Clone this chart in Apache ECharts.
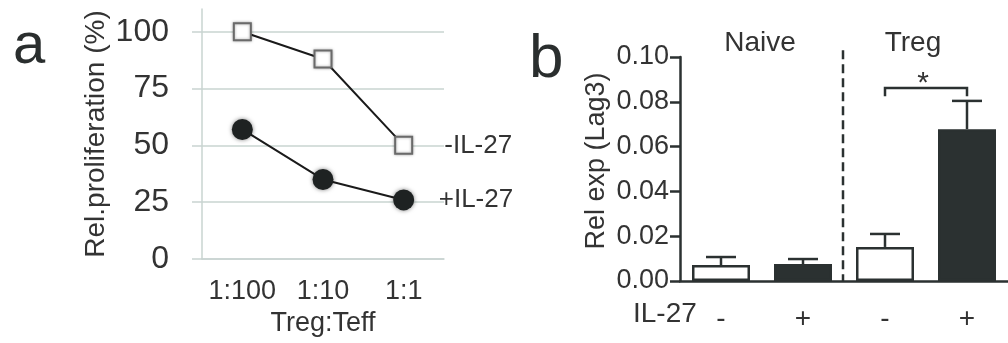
<!DOCTYPE html>
<html>
<head>
<meta charset="utf-8">
<script src="https://cdn.jsdelivr.net/npm/echarts@6/dist/echarts.min.js"></script>
<style>
  html, body { margin: 0; padding: 0; background: #fff; }
  #chart { width: 1008px; height: 343px; }
</style>
</head>
<body>
<div id="chart"></div>
<script>
// panel a: relative proliferation
const ratios = ["1:100", "1:10", "1:1"];
const minusIL27 = [100, 88, 50];
const plusIL27 = [57, 35, 26];
const propTicks = [0, 25, 50, 75, 100];

// panel b: Lag3 expression
const il27Cats = ["-", "+", "-", "+"];
const lagMean = [0.0071, 0.0076, 0.0152, 0.0678];
const lagUpper = [0.0107, 0.0098, 0.0210, 0.0804];
const groupNames = ["Naive", "Treg"];
// significance bracket between Treg - and Treg +
const sigPair = [2, 3];
const sigLevel = [0.0862, 0.0825]; // bracket top, leg end
const sigLabel = "*";

const font = "'Liberation Sans', Arial, sans-serif";
const ink = "#2b3131";
const textInk = "#333";
const gridGray = "#c9d4d1";

const chart = echarts.init(document.getElementById("chart"));

function lastLabel(name, len) {
  return {
    show: true,
    position: "right",
    distance: 99,
    align: "right",
    verticalAlign: "middle",
    fontFamily: font,
    fontSize: 26,
    color: textInk,
    formatter: (p) => (p.dataIndex === len - 1 ? name : "")
  };
}

const option = {
  animation: false,
  textStyle: { fontFamily: font },
  grid: [
    { left: 202, top: 9, width: 242, height: 250 },
    { left: 680, top: 57, width: 338, height: 224 }
  ],
  xAxis: [
    {
      gridIndex: 0,
      type: "category",
      data: ratios,
      boundaryGap: true,
      axisLine: { lineStyle: { color: gridGray, width: 1.5 } },
      axisTick: { show: false },
      axisLabel: { color: textInk, fontSize: 27, margin: 19, interval: 0, fontFamily: font },
      name: "Treg:Teff",
      nameLocation: "middle",
      nameGap: 49,
      nameTextStyle: { color: textInk, fontSize: 27, fontFamily: font }
    },
    {
      gridIndex: 1,
      type: "category",
      data: il27Cats,
      axisLine: { lineStyle: { color: ink, width: 2.5 } },
      axisTick: { alignWithLabel: true, length: 9, lineStyle: { color: ink, width: 2.5 } },
      axisLabel: { color: textInk, fontSize: 28, margin: 24, interval: 0, fontFamily: font }
    }
  ],
  yAxis: [
    {
      gridIndex: 0,
      type: "value",
      min: 0,
      max: 110,
      interval: 25,
      axisLine: { show: true, lineStyle: { color: gridGray, width: 1.5 } },
      axisTick: { show: true, length: 10, customValues: propTicks, lineStyle: { color: gridGray, width: 1.5 } },
      axisLabel: { color: textInk, fontSize: 32, margin: 33, customValues: propTicks, fontFamily: font },
      splitLine: { show: true, lineStyle: { color: gridGray, width: 1.5 } },
      name: "Rel.proliferation (%)",
      nameLocation: "middle",
      nameGap: 92,
      nameTextStyle: { color: textInk, fontSize: 28, fontFamily: font }
    },
    {
      gridIndex: 1,
      type: "value",
      min: 0,
      max: 0.1,
      interval: 0.02,
      axisLine: { show: true, lineStyle: { color: ink, width: 2.5 } },
      axisTick: { show: true, length: 10, lineStyle: { color: ink, width: 2.5 } },
      axisLabel: { color: textInk, fontSize: 27, margin: 11, formatter: (v) => v.toFixed(2), fontFamily: font },
      splitLine: { show: false },
      name: "Rel exp (Lag3)",
      nameLocation: "middle",
      nameGap: 70,
      nameTextStyle: { color: textInk, fontSize: 27, fontFamily: font, padding: [0, 0, 0, 16] }
    }
  ],
  series: [
    {
      name: "-IL-27",
      type: "line",
      xAxisIndex: 0,
      yAxisIndex: 0,
      data: minusIL27,
      symbol: "rect",
      symbolSize: 17,
      lineStyle: { color: "#1a1a1a", width: 2 },
      itemStyle: { color: "#fff", borderColor: "#6a6a6a", borderWidth: 2, shadowBlur: 3, shadowColor: "rgba(0,0,0,0.35)" },
      label: lastLabel("-IL-27", minusIL27.length),
      z: 3
    },
    {
      name: "+IL-27",
      type: "line",
      xAxisIndex: 0,
      yAxisIndex: 0,
      data: plusIL27,
      symbol: "circle",
      symbolSize: 21,
      lineStyle: { color: "#1a1a1a", width: 2 },
      itemStyle: { color: "#1e2222", borderWidth: 0, shadowBlur: 4, shadowColor: "rgba(0,0,0,0.5)" },
      label: lastLabel("+IL-27", plusIL27.length),
      z: 3
    },
    {
      type: "bar",
      xAxisIndex: 1,
      yAxisIndex: 1,
      data: lagMean,
      barWidth: 58,
      itemStyle: {
        color: (p) => (p.name === "+" ? ink : "#fff"),
        borderColor: ink,
        borderWidth: 2.5
      },
      z: 3
    },
    {
      // upper error bars
      type: "custom",
      xAxisIndex: 1,
      yAxisIndex: 1,
      data: lagMean.map((m, i) => [i, m, lagUpper[i]]),
      encode: { x: 0, y: [1, 2] },
      renderItem: (params, api) => {
        const base = api.coord([api.value(0), api.value(1)]);
        const top = api.coord([api.value(0), api.value(2)]);
        const half = 15;
        const st = { stroke: ink, lineWidth: 2.5 };
        return {
          type: "group",
          children: [
            { type: "line", shape: { x1: base[0], y1: base[1], x2: top[0], y2: top[1] }, style: st },
            { type: "line", shape: { x1: top[0] - half, y1: top[1], x2: top[0] + half, y2: top[1] }, style: st }
          ]
        };
      },
      z: 4
    },
    {
      // divider between Naive and Treg, with group titles
      type: "custom",
      xAxisIndex: 1,
      yAxisIndex: 1,
      clip: false,
      data: [[0, 1, 2, 3]],
      encode: { x: [0, 1, 2, 3] },
      renderItem: (params, api) => {
        const c0 = api.coord([0, 0]);
        const c1 = api.coord([1, 0]);
        const c2 = api.coord([2, 0]);
        const c3 = api.coord([3, 0]);
        const midX = (c1[0] + c2[0]) / 2 - 1;
        const topY = api.coord([0, 0.103])[1];
        return {
          type: "group",
          children: [
            {
              type: "line",
              shape: { x1: midX, y1: topY, x2: midX, y2: c1[1] },
              style: { stroke: ink, lineWidth: 2.5, lineDash: [9, 5] }
            },
            {
              type: "text",
              style: { x: (c0[0] + c1[0]) / 2 - 2, y: 43, text: groupNames[0], font: "28px " + font, fill: textInk, align: "center", verticalAlign: "middle" }
            },
            {
              type: "text",
              style: { x: (c2[0] + c3[0]) / 2 - 13, y: 43, text: groupNames[1], font: "28px " + font, fill: textInk, align: "center", verticalAlign: "middle" }
            }
          ]
        };
      },
      z: 2
    },
    {
      // significance bracket
      type: "custom",
      xAxisIndex: 1,
      yAxisIndex: 1,
      clip: false,
      data: [[sigPair[0], sigPair[1], sigLevel[0], sigLevel[1]]],
      encode: { x: [0, 1], y: [2, 3] },
      renderItem: (params, api) => {
        const l = api.coord([api.value(0), api.value(2)]);
        const r = api.coord([api.value(1), api.value(2)]);
        const leg = api.coord([api.value(0), api.value(3)])[1];
        return {
          type: "group",
          children: [
            {
              type: "polyline",
              shape: { points: [[l[0], leg], l, r, [r[0], leg]] },
              style: { stroke: ink, lineWidth: 2.5, fill: null }
            },
            {
              type: "text",
              style: { x: (l[0] + r[0]) / 2 - 3, y: l[1] - 4, text: sigLabel, font: "30px " + font, fill: textInk, align: "center", verticalAlign: "middle" }
            }
          ]
        };
      },
      z: 4
    }
  ],
  graphic: [
    { type: "text", style: { x: 13, y: 47, text: "a", font: "58px " + font, fill: "#2a2e2e", textVerticalAlign: "middle", verticalAlign: "middle" } },
    { type: "text", style: { x: 529, y: 60, text: "b", font: "62px " + font, fill: "#2a2e2e", textVerticalAlign: "middle", verticalAlign: "middle" } },
    { type: "text", style: { x: 633, y: 314, text: "IL-27", font: "28px " + font, fill: textInk, textVerticalAlign: "middle", verticalAlign: "middle" } }
  ]
};

chart.setOption(option);
</script>
</body>
</html>
